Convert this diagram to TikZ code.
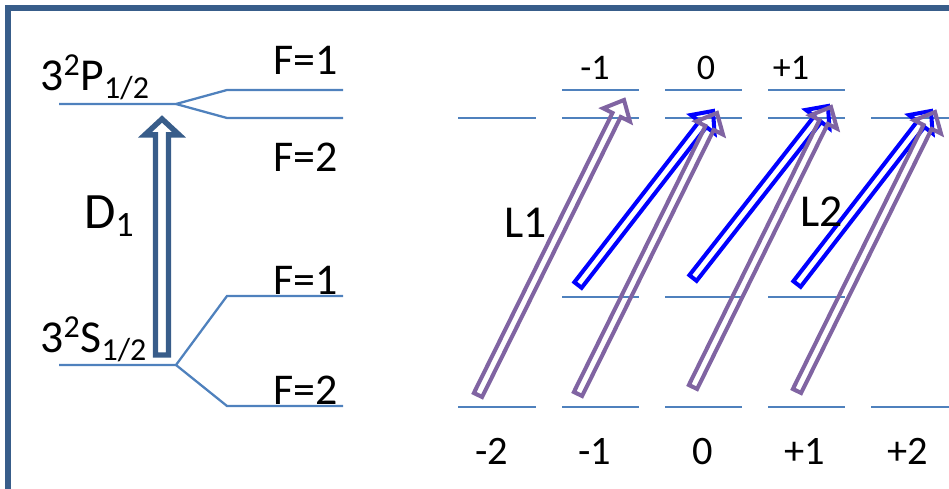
\documentclass[tikz,border=0pt]{standalone}
\usepackage{fontspec}
\setmainfont{Carlito}
\usetikzlibrary{calc}
\definecolor{levelblue}{RGB}{79,129,189}
\definecolor{frameblue}{RGB}{56,93,138}
\definecolor{lonepurple}{RGB}{128,100,162}
\definecolor{ltwoblue}{RGB}{0,0,255}
% hollow block arrow: style, tail, tip, shaft half width, head half width, head length
\newcommand{\hollowarrow}[6]{%
  \draw[#1] ($(#2)!#4!-90:(#3)$) -- ($(#3)!#6!(#2)!#4!90:(#2)$) -- ($(#3)!#6!(#2)!#5!90:(#2)$) -- (#3)
    -- ($(#3)!#6!(#2)!#5!-90:(#2)$) -- ($(#3)!#6!(#2)!#4!-90:(#2)$) -- ($(#2)!#4!90:(#3)$) -- cycle;}

\begin{document}
\begin{tikzpicture}[x=0.2mm,y=-0.2mm,
  level/.style={draw=levelblue,line width=1.3pt},
  frame/.style={draw=frameblue,line width=3.1pt},
  lonearrow/.style={draw=lonepurple,line width=2.3pt,line join=miter},
  ltwoarrow/.style={draw=ltwoblue,line width=2.3pt,line join=miter},
  dline/.style={draw=frameblue,line width=3.1pt,line join=miter},
  statelbl/.style={anchor=base west,inner sep=0pt,font=\fontsize{26}{29}\selectfont},
  flbl/.style={anchor=base west,inner sep=0pt,font=\fontsize{25}{28}\selectfont},
  laserlbl/.style={anchor=base west,inner sep=0pt,font=\fontsize{26}{29}\selectfont},
  mlbl/.style={anchor=base,inner sep=0pt,font=\fontsize{23}{26}\selectfont},
  mtoplbl/.style={anchor=base,inner sep=0pt,font=\fontsize{20.5}{23}\selectfont}
]
\useasboundingbox (0,0) rectangle (949,489);
\clip (0,0) rectangle (949,489);
\draw[frame] (8,8) rectangle (1000,560);

% fine structure and hyperfine splitting
\draw[level] (59,104) -- (176,104) -- (227,90) -- (343,90);
\draw[level] (176,104) -- (227,118) -- (343,118);
\draw[level] (59,365) -- (176,365) -- (227,296) -- (343,296);
\draw[level] (176,365) -- (227,406) -- (343,406);

% Zeeman sublevels, upper F=1 and F=2
\draw[level] (562,90) -- (639,90); \draw[level] (665,90) -- (742,90); \draw[level] (768,90) -- (845,90);
\draw[level] (458,118) -- (536,118); \draw[level] (562,118) -- (639,118); \draw[level] (665,118) -- (742,118);
\draw[level] (768,118) -- (845,118); \draw[level] (871,118) -- (955,118);
% Zeeman sublevels, lower F=1 and F=2
\draw[level] (562,297) -- (639,297); \draw[level] (665,297) -- (742,297); \draw[level] (768,297) -- (845,297);
\draw[level] (458,407) -- (536,407); \draw[level] (562,407) -- (639,407); \draw[level] (665,407) -- (742,407);
\draw[level] (768,407) -- (845,407); \draw[level] (871,407) -- (955,407);

% arrow ends
\coordinate (dtail) at (162,355); \coordinate (dtip) at (162,119);
\coordinate (b1tail) at (578,285); \coordinate (b1tip) at (713,111);
\coordinate (b2tail) at (693,278); \coordinate (b2tip) at (828,106);
\coordinate (b3tail) at (797,284); \coordinate (b3tip) at (931,111);
\coordinate (a1tail) at (478,395); \coordinate (a1tip) at (624,100);
\coordinate (a2tail) at (578,394); \coordinate (a2tip) at (717,113);
\coordinate (a3tail) at (693,387); \coordinate (a3tip) at (831,107);
\coordinate (a4tail) at (797,391); \coordinate (a4tip) at (935,112);

\hollowarrow{dline}{dtail}{dtip}{3.7pt}{9.7pt}{9pt}
\hollowarrow{ltwoarrow}{b1tail}{b1tip}{2.6pt}{8.5pt}{9.5pt}
\hollowarrow{ltwoarrow}{b2tail}{b2tip}{2.6pt}{8.5pt}{9.5pt}
\hollowarrow{ltwoarrow}{b3tail}{b3tip}{2.6pt}{8.5pt}{9.5pt}
\hollowarrow{lonearrow}{a1tail}{a1tip}{2.6pt}{8.5pt}{9.5pt}
\hollowarrow{lonearrow}{a2tail}{a2tip}{2.6pt}{8.5pt}{9.5pt}
\hollowarrow{lonearrow}{a3tail}{a3tip}{2.6pt}{8.5pt}{9.5pt}
\hollowarrow{lonearrow}{a4tail}{a4tip}{2.6pt}{8.5pt}{9.5pt}

% labels
\node[statelbl] (pstate) at (40,91) {3\textsuperscript{2}P\textsubscript{1/2}};
\node[statelbl] (sstate) at (40,353) {3\textsuperscript{2}S\textsubscript{1/2}};
\node[anchor=base west,inner sep=0pt,font=\fontsize{29}{32}\selectfont] (dlabel) at (84,229) {D\textsubscript{1}};
\node[flbl] (pf1) at (273,75) {F=1};
\node[flbl] (pf2) at (273,172) {F=2};
\node[flbl] (sf1) at (273,295) {F=1};
\node[flbl] (sf2) at (273,405) {F=2};
\node[laserlbl] (lone) at (504,238) {L1};
\node[laserlbl] (ltwo) at (800,227) {L2};
\node[mtoplbl] (pm1) at (595,80) {-1};
\node[mtoplbl] (pm2) at (706,80) {0};
\node[mtoplbl] (pm3) at (791,80) {+1};
\node[mlbl] (sm1) at (492,465) {-2};
\node[mlbl] (sm2) at (595,465) {-1};
\node[mlbl] (sm3) at (703,465) {0};
\node[mlbl] (sm4) at (805,465) {+1};
\node[mlbl] (sm5) at (908,465) {+2};
\end{tikzpicture}
\end{document}
